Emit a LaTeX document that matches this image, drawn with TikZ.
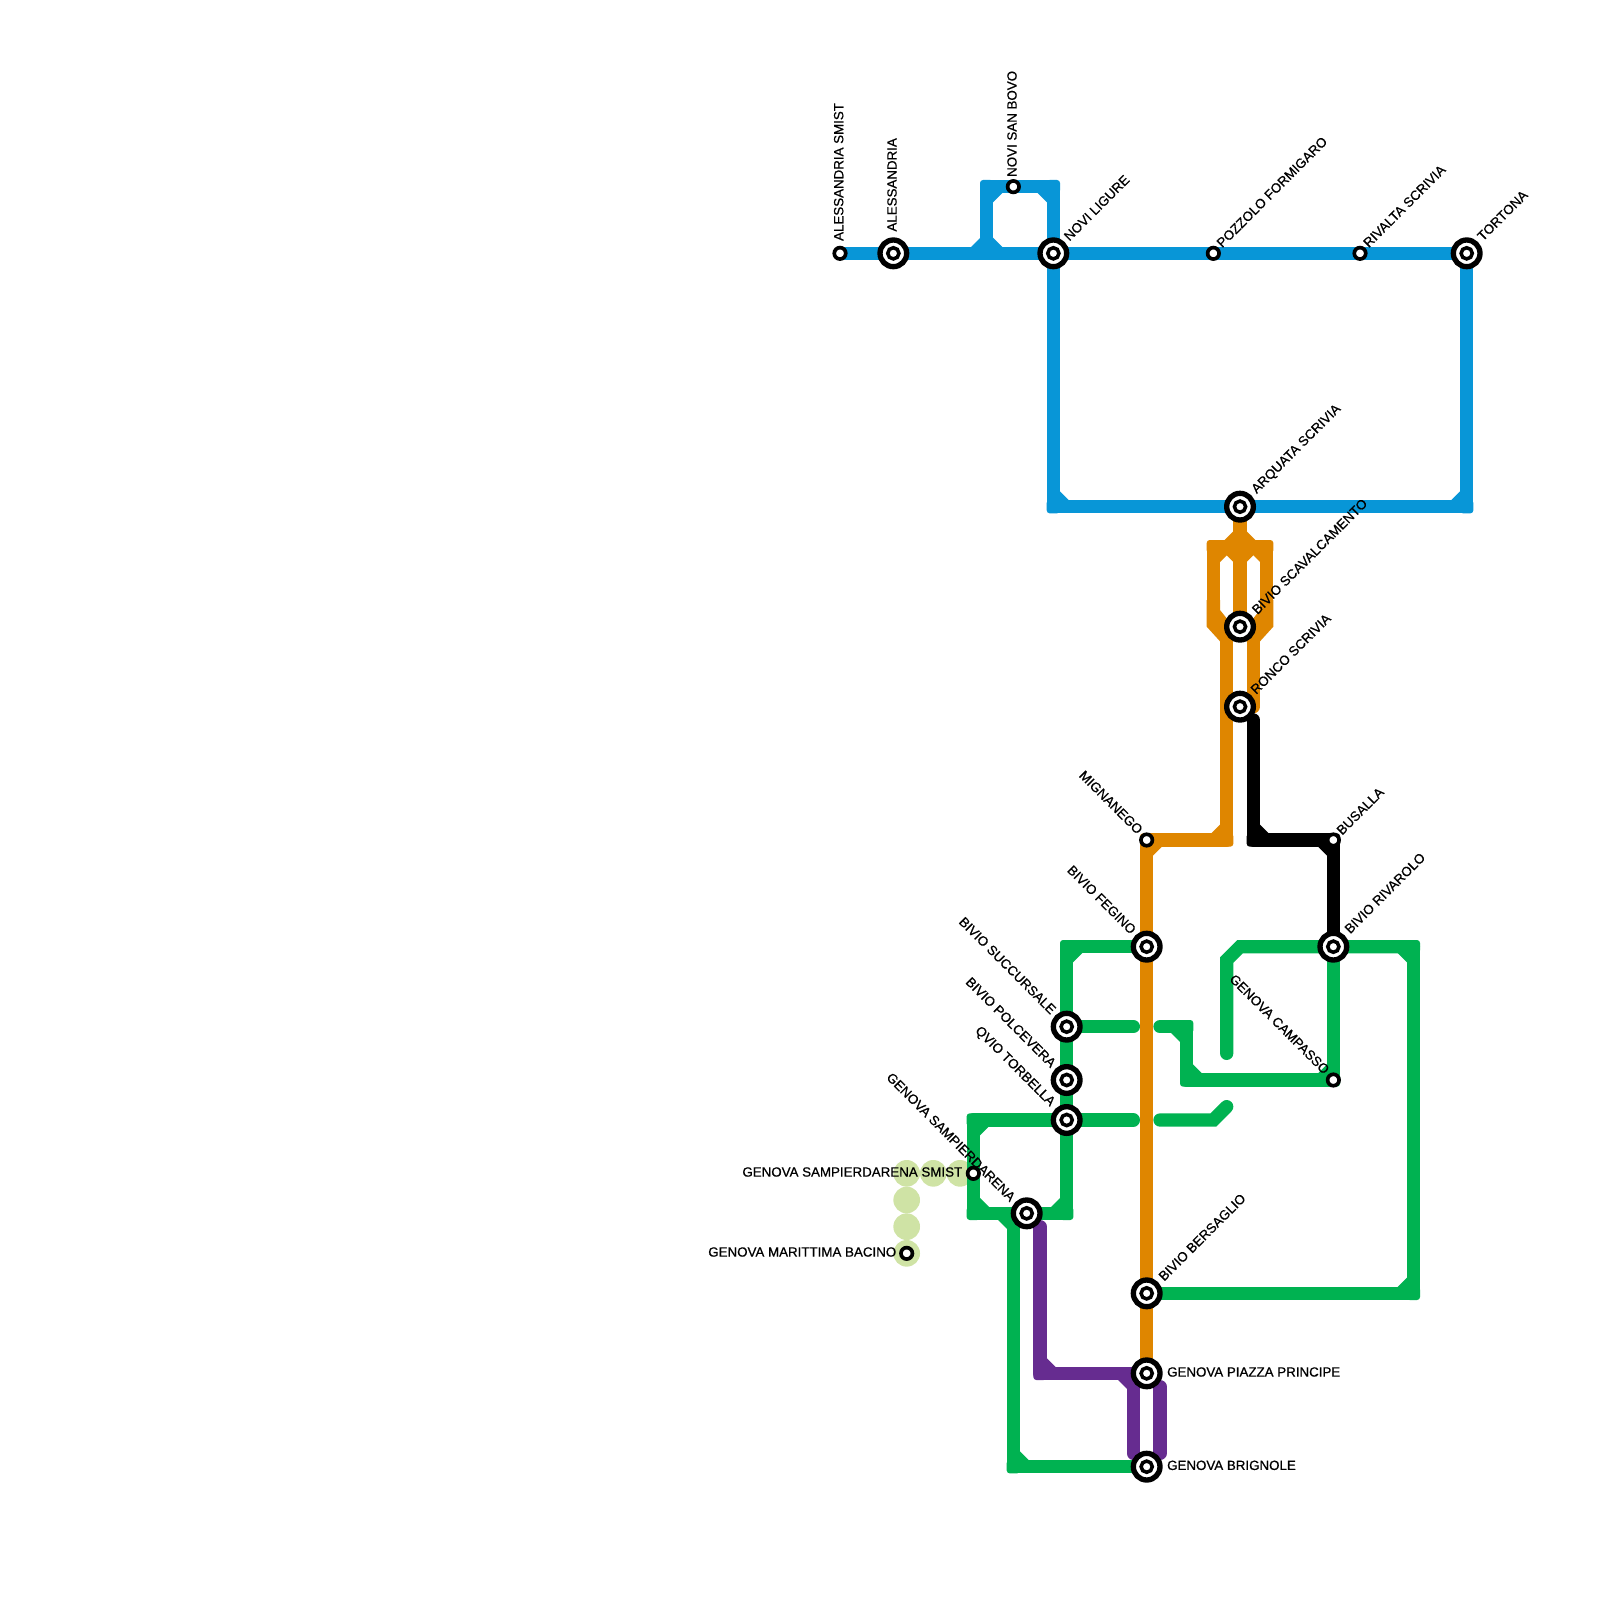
\documentclass[tikz,border=0pt]{standalone}
\usepackage{fontspec}
\newfontfamily\lblfont[FakeBold=0.7]{Liberation Sans}
\definecolor{lineblue}{HTML}{0896D7}
\definecolor{lineorange}{HTML}{DF8600}
\definecolor{linegreen}{HTML}{00B251}
\definecolor{linepurple}{HTML}{662C90}
\definecolor{linelight}{HTML}{CFE3A5}
\pgfdeclarelayer{lines}
\pgfsetlayers{lines,main}
\newcommand{\chm}[5]{\fill[#1] (#2-0.05*#4,#3-0.05*#5) -- ++(0.75*#4,0) -- ++(-0.75*#4,0.75*#5) -- cycle;}
\newcommand{\crn}[3]{\fill[#1,rounded corners=0.45mm] (#2-0.5,#3-0.5) rectangle (#2+0.5,#3+0.5);}
\tikzset{
  major/.style={circle,draw=black,fill=white,line width=0.8mm,minimum size=4.0mm,inner sep=0pt},
  minor/.style={circle,draw=black,fill=white,line width=0.55mm,minimum size=1.72mm,inner sep=0pt},
  innerring/.style={draw=black,line width=0.53mm},
  lbl/.style={inner sep=0pt,font=\lblfont\fontsize{5.69pt}{6pt}\selectfont,text=black},
  lup/.style={lbl,rotate=90,anchor=west},
  lne/.style={lbl,rotate=45,anchor=west},
  lnw/.style={lbl,rotate=-45,anchor=east},
  lrt/.style={lbl,anchor=west},
  llt/.style={lbl,anchor=east},
  track/.style={line width=2mm,line join=round,line cap=butt},
  free/.style={track,line cap=round},
  lightdot/.style={circle,fill=linelight,minimum size=4mm,inner sep=0pt}
}
\begin{document}
\begin{tikzpicture}[x=0.2cm,y=-0.2cm]
\useasboundingbox (0,0) rectangle (120,120);
% stations
\node[minor] (asmist) at (63,19) {};
\node[major] (aless) at (67,19) {};
\node[minor] (nsb) at (76,14) {};
\node[major] (novi) at (79,19) {};
\node[minor] (pozz) at (91,19) {};
\node[minor] (riv) at (102,19) {};
\node[major] (tort) at (110,19) {};
\node[major] (arq) at (93,38) {};
\node[major] (scav) at (93,47) {};
\node[major] (ronco) at (93,53) {};
\node[minor] (mign) at (86,63) {};
\node[minor] (bus) at (100,63) {};
\node[major] (feg) at (86,71) {};
\node[major] (rivar) at (100,71) {};
\node[major] (succ) at (80,77) {};
\node[major] (polc) at (80,81) {};
\node[minor] (camp) at (100,81) {};
\node[major] (qvio) at (80,84) {};
\node[minor] (gss) at (73,88) {};
\node[major] (gs) at (77,91) {};
\node[minor] (gmb) at (68,94) {};
\node[major] (bers) at (86,97) {};
\node[major] (gpp) at (86,103) {};
\node[major] (gbr) at (86,110) {};
\foreach \s in {aless,novi,tort,arq,scav,ronco,feg,rivar,succ,polc,qvio,gs,bers,gpp,gbr}
  \draw[innerring] (\s.center) circle (0.84mm);
% labels
\node[lup] (t1) at (62.9,18.1) {ALESSANDRIA SMIST};
\node[lup] (t2) at (66.9,17.4) {ALESSANDRIA};
\node[lup] (t3) at (75.9,13.3) {NOVI SAN BOVO};
\node[lne] (t4) at (79.95,17.9) {NOVI LIGURE};
\node[lne] (t5) at (91.4,18.4) {POZZOLO FORMIGARO};
\node[lne] (t6) at (102.4,18.4) {RIVALTA SCRIVIA};
\node[lne] (t7) at (110.95,17.9) {TORTONA};
\node[lne] (t8) at (94.05,36.9) {ARQUATA SCRIVIA};
\node[lne] (t9) at (94.05,45.9) {BIVIO SCAVALCAMENTO};
\node[lne] (t10) at (93.95,51.9) {RONCO SCRIVIA};
\node[lnw] (t11) at (85.55,62.4) {MIGNANEGO};
\node[lne] (t12) at (100.4,62.45) {BUSALLA};
\node[lnw] (t13) at (85.05,69.9) {BIVIO FEGINO};
\node[lne] (t14) at (101,69.85) {BIVIO RIVAROLO};
\node[lnw] (t15) at (79.05,75.9) {BIVIO SUCCURSALE};
\node[lnw] (t16) at (79.05,79.9) {BIVIO POLCEVERA};
\node[lnw] (t17) at (99.55,80.4) {GENOVA CAMPASSO};
\node[lnw] (t18) at (78.95,82.85) {QVIO TORBELLA};
\node[llt] (t19) at (72.2,87.9) {GENOVA SAMPIERDARENA SMIST};
\node[lnw] (t20) at (76,89.95) {GENOVA SAMPIERDARENA};
\node[llt] (t21) at (67.25,93.9) {GENOVA MARITTIMA BACINO};
\node[lne] (t22) at (87.05,95.9) {BIVIO BERSAGLIO};
\node[lrt] (t23) at (87.5,102.9) {GENOVA PIAZZA PRINCIPE};
\node[lrt] (t24) at (87.5,109.9) {GENOVA BRIGNOLE};
% waypoints
\coordinate (bSE) at (110,38); \coordinate (bSW) at (79,38);
\coordinate (bJ) at (74,19); \coordinate (bTL) at (74,14); \coordinate (bTR) at (79,14);
\coordinate (oTL) at (91,41); \coordinate (oTR) at (95,41);
\coordinate (oLb) at (91,46); \coordinate (oRb) at (95,46);
\coordinate (o2t) at (92,47); \coordinate (o2b) at (92,63);
\coordinate (o4t) at (94,47); \coordinate (o4b) at (94,53);
\coordinate (oS) at (93,47);
\coordinate (kT) at (94,54); \coordinate (kC) at (94,63); \coordinate (kR) at (100,63);
\coordinate (gA) at (80,71); \coordinate (gB) at (80,91);
\coordinate (gC) at (73,91); \coordinate (gD) at (73,84);
\coordinate (gE) at (85,84); \coordinate (gF) at (87,84); \coordinate (gG) at (91,84); \coordinate (gH) at (92,83);
\coordinate (gI) at (85,77); \coordinate (gJ) at (87,77); \coordinate (gK) at (89,77); \coordinate (gL) at (89,81);
\coordinate (gM) at (92,79); \coordinate (gN) at (92,72); \coordinate (gO) at (93,71);
\coordinate (gP) at (106,71); \coordinate (gQ) at (106,97);
\coordinate (gR) at (76,91); \coordinate (gS) at (76,110);
\coordinate (pA) at (78,92); \coordinate (pB) at (78,103);
\coordinate (pC) at (85,103); \coordinate (pD) at (85,109);
\coordinate (pE) at (87,104); \coordinate (pF) at (87,109);
\begin{pgfonlayer}{lines}
% light line
\foreach \n/\px/\py in {a/68/88,b/70/88,c/72/88,d/68/90,e/68/92,f/68/94}
  \node[lightdot] (ld\n) at (\px,\py) {};
% green
\draw[track,linegreen] (feg.center) -- (gA) -- (gB) -- (gC) -- (gD) -- (qvio.center);
\draw[free,linegreen] (qvio.center) -- (gE);
\draw[free,linegreen,line join=miter] (gF) -- (gG) -- (gH);
\draw[free,linegreen] (succ.center) -- (gI);
\draw[free,linegreen] (gJ) -- (gK) -- (gL) -- (camp.center) -- (rivar.center);
\draw[free,linegreen,line join=miter] (gM) -- (gN) -- (gO) -- (gP);
\draw[track,linegreen] (gO) -- (gP) -- (gQ) -- (bers.center);
\draw[track,linegreen] (gR) -- (gS) -- (gbr.center);
\foreach \px/\py in {80/71,80/91,73/91,73/84,89/77,89/81,100/81,106/71,106/97,76/110}
  {\crn{linegreen}{\px}{\py}}
\chm{linegreen}{80.5}{71.5}{1}{1}
\chm{linegreen}{79.5}{90.5}{-1}{-1}
\chm{linegreen}{73.5}{84.5}{1}{1}
\chm{linegreen}{73.5}{90.5}{1}{-1}
\chm{linegreen}{75.5}{91.5}{-1}{1}
\chm{linegreen}{76.5}{109.5}{1}{-1}
\chm{linegreen}{88.5}{77.5}{-1}{1}
\chm{linegreen}{89.5}{80.5}{1}{-1}
\chm{linegreen}{99.5}{80.5}{-1}{-1}
\chm{linegreen}{105.5}{71.5}{-1}{1}
\chm{linegreen}{105.5}{96.5}{-1}{-1}
% blue
\draw[track,lineblue] (asmist.center) -- (tort.center) -- (bSE) -- (bSW) -- (novi.center);
\draw[track,lineblue] (bJ) -- (bTL) -- (bTR) -- (novi.center);
\foreach \px/\py in {74/14,79/14,110/38,79/38}
  {\crn{lineblue}{\px}{\py}}
\chm{lineblue}{74.5}{14.5}{1}{1}
\chm{lineblue}{78.5}{14.5}{-1}{1}
\chm{lineblue}{74.5}{18.5}{1}{-1}
\chm{lineblue}{73.5}{18.5}{-1}{-1}
\chm{lineblue}{79.5}{37.5}{1}{-1}
\chm{lineblue}{109.5}{37.5}{-1}{-1}
% orange
\draw[track,lineorange] (arq.center) -- (oS);
\draw[track,lineorange] (oLb) -- (oTL) -- (oTR) -- (oRb);
\foreach \px/\py in {91/41,95/41,92/63,86/63}
  {\crn{lineorange}{\px}{\py}}
\fill[lineorange] (90.5,45) -- (90.5,47) -- (91.5,48.1) -- (92.5,48.1) -- (92.5,47) -- (91.5,45.75) -- (91.5,45) -- cycle;
\fill[lineorange] (95.5,45) -- (95.5,47) -- (94.5,48.1) -- (93.5,48.1) -- (93.5,47) -- (94.5,45.75) -- (94.5,45) -- cycle;
\chm{lineorange}{92.5}{40.5}{-1}{-1}
\chm{lineorange}{93.5}{40.5}{1}{-1}
\chm{lineorange}{91.5}{41.5}{1}{1}
\chm{lineorange}{92.5}{41.5}{-1}{1}
\chm{lineorange}{93.5}{41.5}{1}{1}
\chm{lineorange}{94.5}{41.5}{-1}{1}
\draw[free,lineorange] (o4t) -- (o4b);
\draw[track,lineorange] (o2t) -- (o2b) -- (mign.center) -- (gpp.center);
\chm{lineorange}{91.5}{62.5}{-1}{-1}
\chm{lineorange}{86.5}{63.5}{1}{1}
% black
\draw[track,black,line cap=round] (kT) -- (kC) -- (kR) -- (rivar.center);
\foreach \px/\py in {94/63,100/63}
  {\crn{black}{\px}{\py}}
\chm{black}{94.5}{62.5}{1}{-1}
\chm{black}{99.5}{63.5}{-1}{1}
% purple
\draw[free,linepurple] (pA) -- (pB) -- (gpp.center);
\draw[free,linepurple] (pC) -- (pD);
\draw[free,linepurple] (pE) -- (pF);
\crn{linepurple}{78}{103}
\chm{linepurple}{78.5}{102.5}{1}{-1}
\chm{linepurple}{84.5}{103.5}{-1}{1}
\end{pgfonlayer}
\end{tikzpicture}
\end{document}
